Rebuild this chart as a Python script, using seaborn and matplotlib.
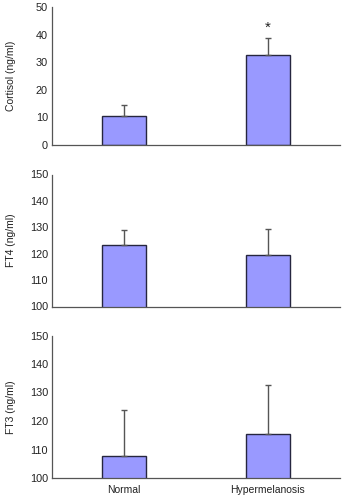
import matplotlib
matplotlib.use("Agg")
import matplotlib.pyplot as plt
import seaborn as sns
import pandas as pd

groups = ["Normal", "Hypermelanosis"]
cortisol = [10.6, 32.6]
cortisol_err = [4.0, 6.1]
ft4 = [123.4, 119.6]
ft4_err = [5.6, 9.6]
ft3 = [107.7, 115.6]
ft3_err = [16.2, 17.0]

panels = [
    ("Cortisol (ng/ml)", cortisol, cortisol_err, (0, 50), [0, 10, 20, 30, 40, 50]),
    ("FT4 (ng/ml)", ft4, ft4_err, (100, 150), [100, 110, 120, 130, 140, 150]),
    ("FT3 (ng/ml)", ft3, ft3_err, (100, 150), [100, 110, 120, 130, 140, 150]),
]
star_value = 42.5

sns.set_theme(style="white")
plt.rcParams["font.family"] = ["Liberation Sans", "DejaVu Sans"]

fig = plt.figure(figsize=(3.43, 5.0), dpi=100)
rects = [
    [0.152, 0.710, 0.839, 0.276],
    [0.152, 0.387, 0.839, 0.264],
    [0.152, 0.044, 0.839, 0.285],
]
fs = 7.8

for i, (label, vals, errs, ylim, yticks) in enumerate(panels):
    ax = fig.add_axes(rects[i])
    df = pd.DataFrame({"group": groups, "value": vals})
    sns.barplot(data=df, x="group", y="value", ax=ax, color="#9999ff",
                saturation=1, width=0.31, edgecolor="#26263f", linewidth=1.0,
                errorbar=None)
    ax.errorbar([0, 1], vals, yerr=[[0, 0], errs], fmt="none", ecolor="#555555",
                elinewidth=1.0, capsize=2.5, capthick=1.0, zorder=1)
    ax.set_xlim(-0.5, 1.5)
    ax.set_ylim(*ylim)
    ax.set_yticks(yticks)
    ax.set_xticks([-0.5, 0.5, 1.5])
    ax.set_xticklabels([])
    ax.set_xticks([0, 1], minor=True)
    if i == 2:
        ax.set_xticklabels(groups, minor=True)
    ax.tick_params(axis="x", which="minor", length=0, labelsize=fs - 0.3, pad=5, colors="#222222")
    ax.tick_params(axis="x", which="major", direction="in", length=3, width=0.9, color="#555555")
    ax.tick_params(axis="y", direction="in", length=3, width=0.9, color="#555555",
                   labelsize=fs, pad=3, labelcolor="#222222")
    ax.set_xlabel("")
    ax.set_ylabel(label, fontsize=fs - 0.3, color="#222222")
    ax.yaxis.set_label_coords(-0.125, 0.5)
    for s in ["top", "right"]:
        ax.spines[s].set_visible(False)
    for s in ["left", "bottom"]:
        ax.spines[s].set_color("#555555")
        ax.spines[s].set_linewidth(0.9)
    ax.set_facecolor("white")
    ax.grid(False)
    if i == 0:
        ax.text(1, star_value, "*", ha="center", va="center", fontsize=11, color="#222222")

fig.savefig("out.png", dpi=100, facecolor="white")
